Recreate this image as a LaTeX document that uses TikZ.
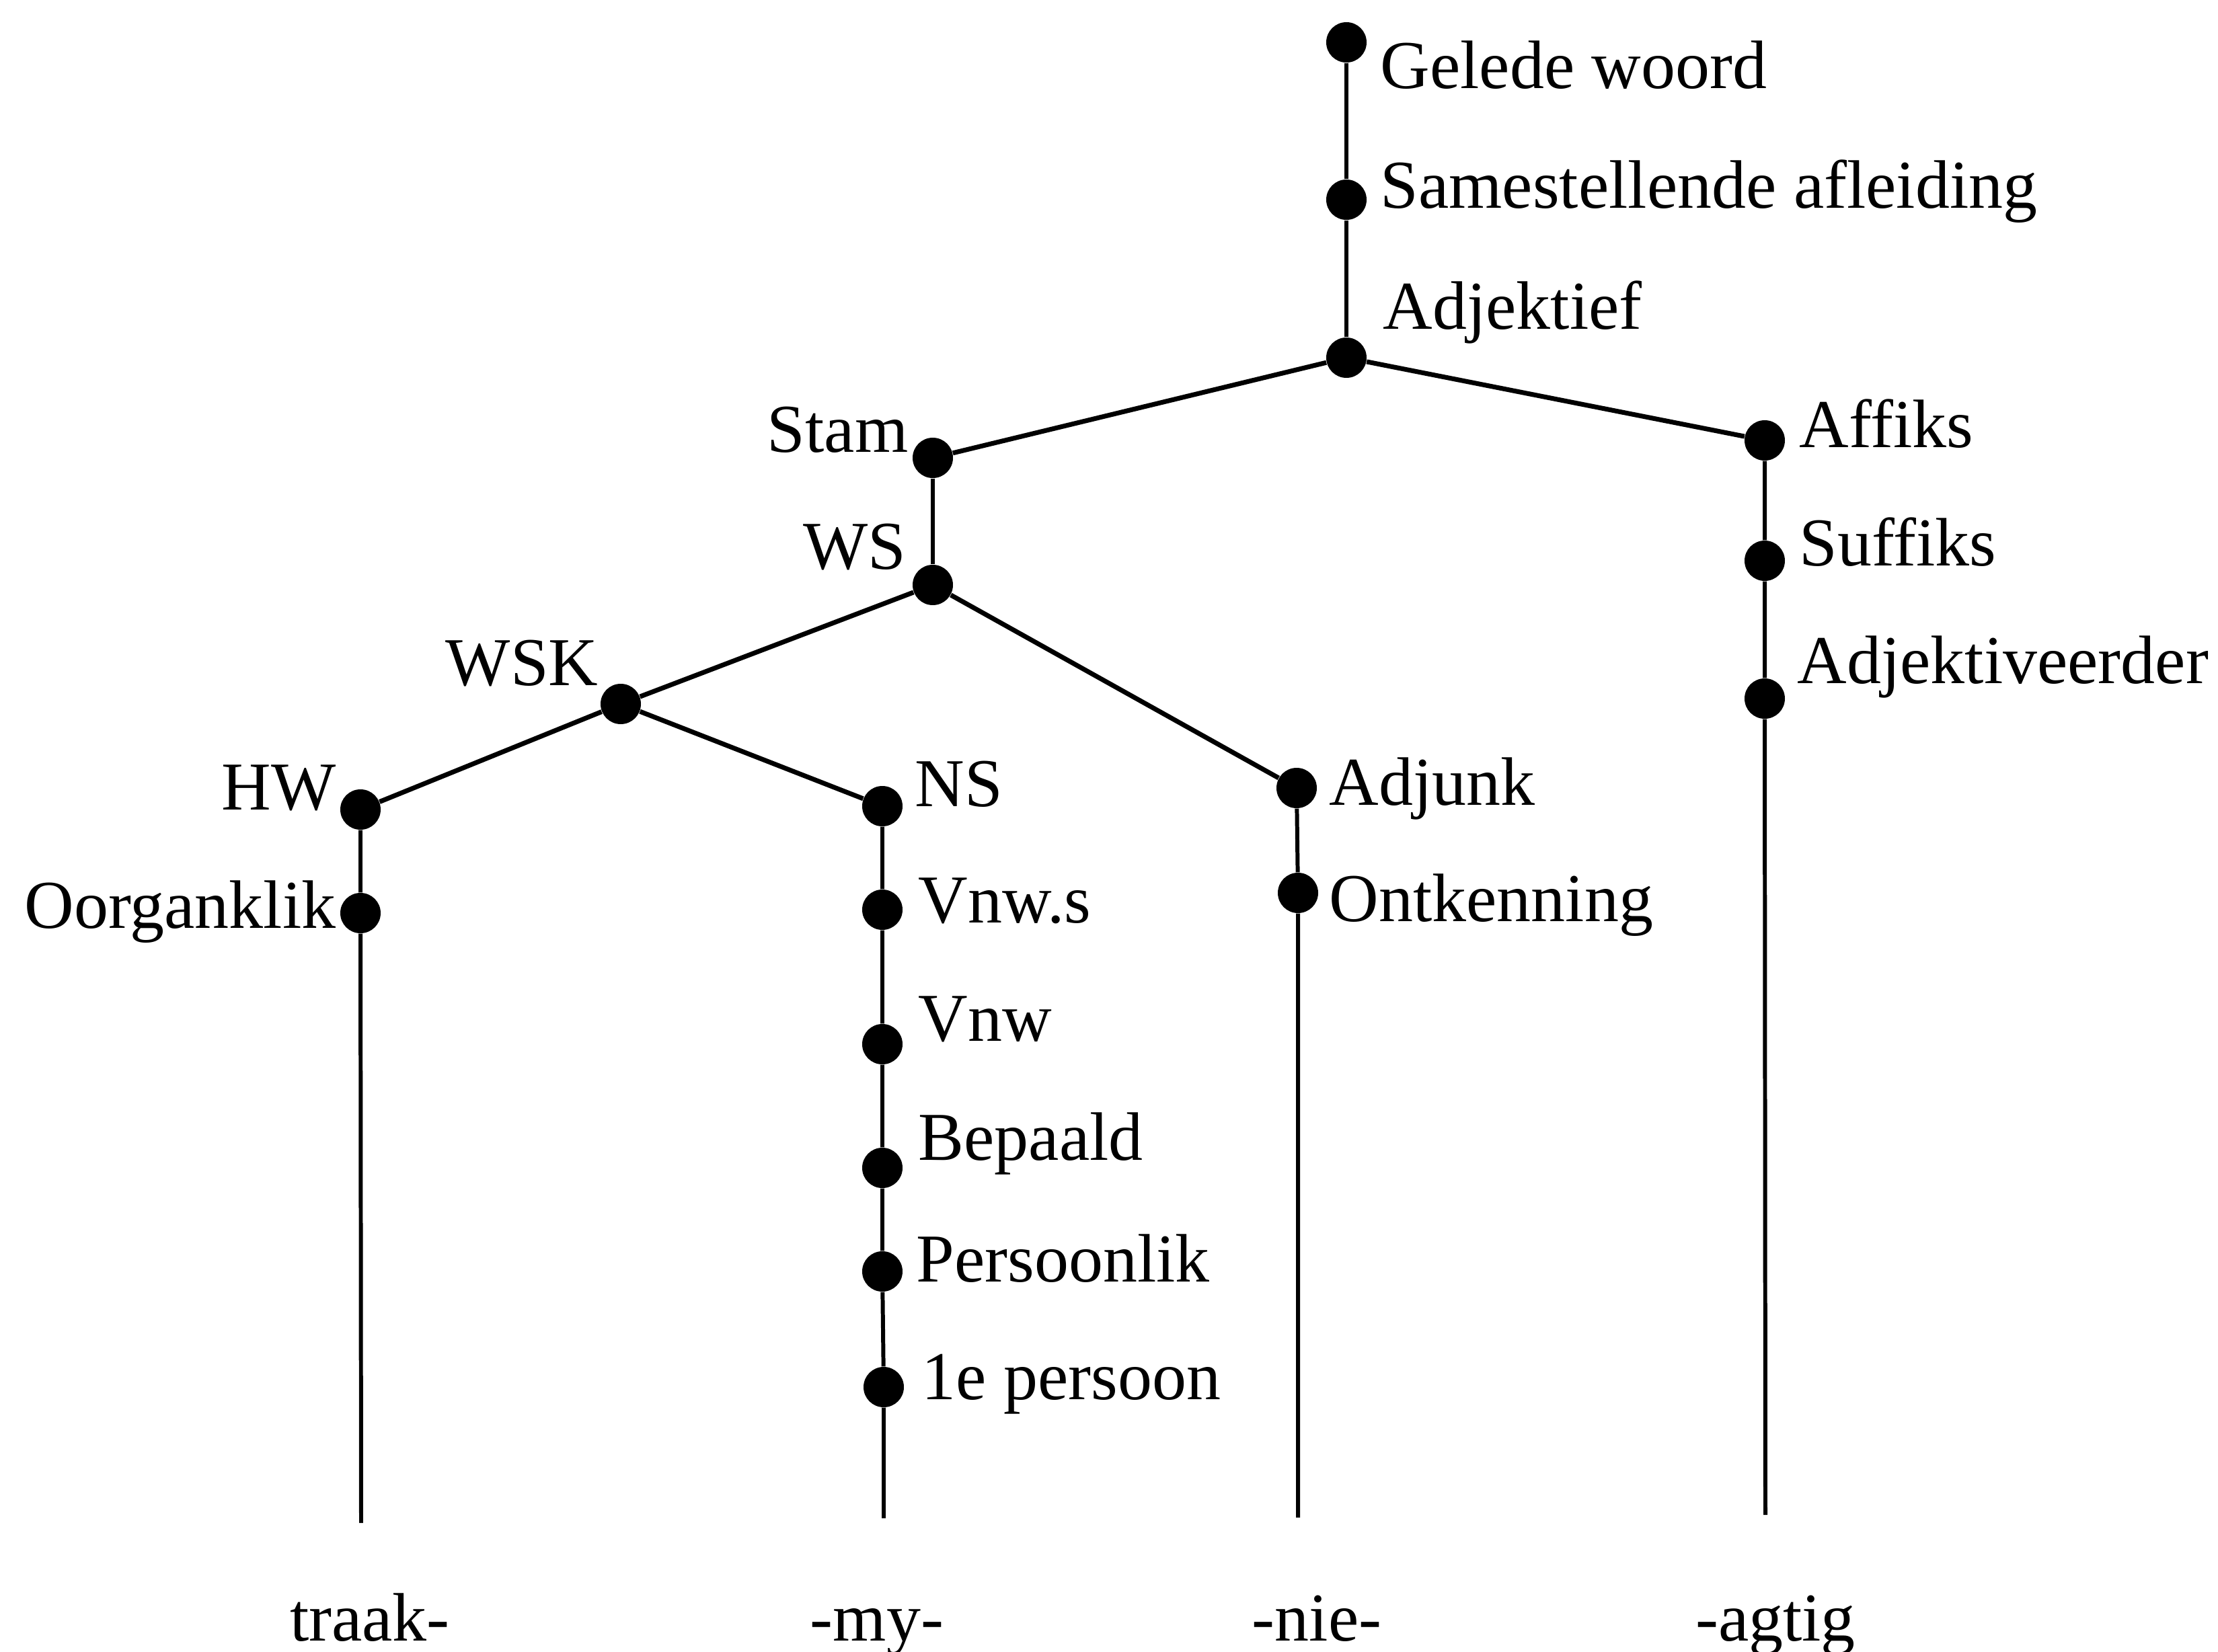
\documentclass[tikz,border=0pt]{standalone}
\usepackage{fontspec}
\setmainfont{Liberation Serif}
\begin{document}
\begin{tikzpicture}[x=1cm,y=1cm,
  dot/.style={circle,fill=black,draw=none,inner sep=0pt,minimum size=0.6cm},
  lab/.style={inner sep=0pt,font=\fontsize{29}{34}\selectfont},
  branch/.style={line width=2pt},
  stem/.style={line width=1.7pt}]
\useasboundingbox (0,0) rectangle (32.98,-24.57);

% tree nodes
\node[dot] (gw)   at (20.02,-0.63) {};
\node[dot] (sa)   at (20.02,-2.97) {};
\node[dot] (adj)  at (20.02,-5.32) {};
\node[dot] (stam) at (13.87,-6.81) {};
\node[dot] (aff)  at (26.24,-6.55) {};
\node[dot] (ws)   at (13.87,-8.70) {};
\node[dot] (suf)  at (26.24,-8.34) {};
\node[dot] (adv)  at (26.24,-10.39) {};
\node[dot] (wsk)  at (9.23,-10.47) {};
\node[dot] (hw)   at (5.36,-12.04) {};
\node[dot] (ns)   at (13.12,-11.99) {};
\node[dot] (adjk) at (19.28,-11.72) {};
\node[dot] (oor)  at (5.36,-13.58) {};
\node[dot] (vnws) at (13.12,-13.53) {};
\node[dot] (ont)  at (19.30,-13.28) {};
\node[dot] (vnw)  at (13.12,-15.53) {};
\node[dot] (bep)  at (13.12,-17.37) {};
\node[dot] (pers) at (13.12,-18.91) {};
\node[dot] (eers) at (13.14,-20.63) {};

% free ends of the leaf stems
\coordinate (endA) at (5.37,-22.65);
\coordinate (endB) at (13.14,-22.58);
\coordinate (endC) at (19.30,-22.57);
\coordinate (endD) at (26.25,-22.53);

% connectors
\draw[stem] (gw) -- (sa) -- (adj);
\draw[branch] (adj) -- (stam);
\draw[branch] (adj) -- (aff);
\draw[stem] (stam) -- (ws);
\draw[stem] (aff) -- (suf) -- (adv) -- (endD);
\draw[branch] (ws) -- (wsk);
\draw[branch] (ws) -- (adjk);
\draw[branch] (wsk) -- (hw);
\draw[branch] (wsk) -- (ns);
\draw[stem] (hw) -- (oor) -- (endA);
\draw[stem] (ns) -- (vnws) -- (vnw) -- (bep) -- (pers) -- (eers) -- (endB);
\draw[stem] (adjk) -- (ont) -- (endC);

% category labels
\node[lab,anchor=base west] (tgw)   at (20.52,-1.32)  {Gelede woord};
\node[lab,anchor=base west] (tsa)   at (20.52,-3.10)  {Samestellende afleiding};
\node[lab,anchor=base west] (tadj)  at (20.56,-4.90)  {Adjektief};
\node[lab,anchor=base east] (tstam) at (13.51,-6.72)  {Stam};
\node[lab,anchor=base west] (taff)  at (26.75,-6.66)  {Affiks};
\node[lab,anchor=base east] (tws)   at (13.48,-8.47)  {WS};
\node[lab,anchor=base west] (tsuf)  at (26.75,-8.41)  {Suffiks};
\node[lab,anchor=base west] (tadv)  at (26.72,-10.16) {Adjektiveerder};
\node[lab,anchor=base east] (twsk)  at (8.90,-10.20)  {WSK};
\node[lab,anchor=base east] (thw)   at (5.00,-12.04)  {HW};
\node[lab,anchor=base west] (tns)   at (13.60,-11.99) {NS};
\node[lab,anchor=base west] (tadjk) at (19.76,-11.97) {Adjunk};
\node[lab,anchor=base east] (toor)  at (5.00,-13.80)  {Oorganklik};
\node[lab,anchor=base west] (tvnws) at (13.65,-13.72) {Vnw.s};
\node[lab,anchor=base west] (tont)  at (19.76,-13.70) {Ontkenning};
\node[lab,anchor=base west] (tvnw)  at (13.65,-15.48) {Vnw};
\node[lab,anchor=base west] (tbep)  at (13.65,-17.25) {Bepaald};
\node[lab,anchor=base west] (tpers) at (13.62,-19.06) {Persoonlik};
\node[lab,anchor=base west] (teers) at (13.70,-20.81) {1e persoon};

% morphemes
\node[lab,anchor=base] (mA) at (5.50,-24.40)  {traak-};
\node[lab,anchor=base] (mB) at (13.04,-24.40) {-my-};
\node[lab,anchor=base] (mC) at (19.58,-24.40) {-nie-};
\node[lab,anchor=base] (mD) at (26.40,-24.40) {-agtig};
\end{tikzpicture}
\end{document}
